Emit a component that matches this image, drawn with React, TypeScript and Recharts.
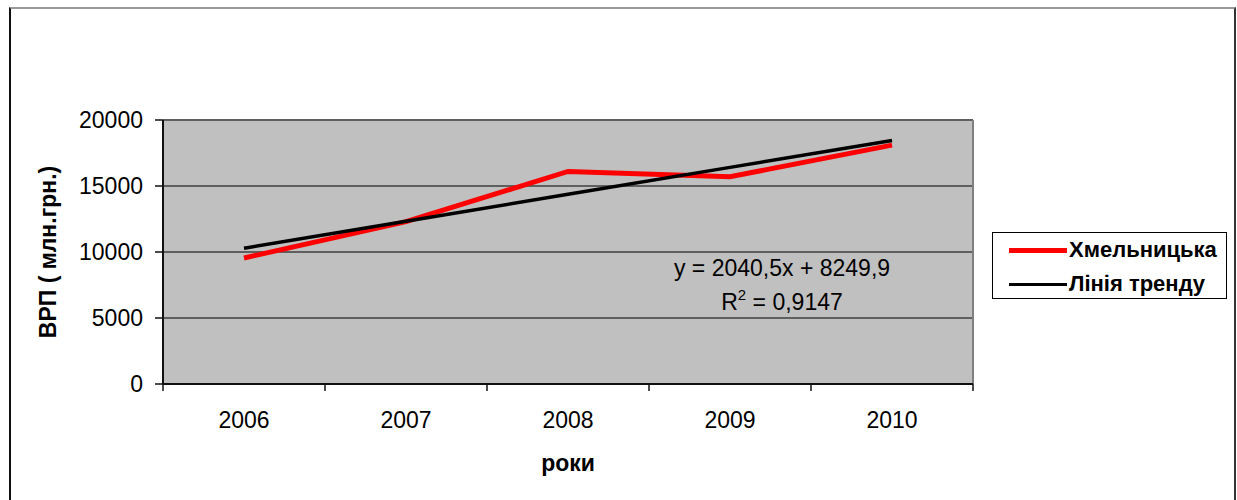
import React from 'react';
import {
  LineChart,
  Line,
  XAxis,
  YAxis,
  CartesianGrid,
} from 'recharts';

// values
const years = ['2006', '2007', '2008', '2009', '2010'];
const khmelnytska = [9550, 12300, 16100, 15700, 18100];
const trend = [10290, 12331, 14371, 16412, 18452];
const yTicks = [0, 5000, 10000, 15000, 20000];

const data = years.map((year, i) => ({
  year,
  khm: khmelnytska[i],
  trend: trend[i],
}));

const FONT = '"Liberation Sans", Arial, sans-serif';
const HALF = 81; // half a category slot, so the tick marks sit between years

// Excel-style category axis: label in the slot, tick marks at slot edges
function YearTick(props: any) {
  const { x, y, payload, index } = props;
  const last = index === years.length - 1;
  return (
    <g>
      <line x1={x - HALF} x2={x - HALF} y1={y} y2={y + 7} stroke="#111" strokeWidth={1.5} />
      {last && (
        <line x1={x + HALF} x2={x + HALF} y1={y} y2={y + 7} stroke="#111" strokeWidth={1.5} />
      )}
      <text
        x={x}
        y={y + 28}
        dy="0.71em"
        textAnchor="middle"
        fontSize={23}
        fill="#000"
        fontFamily={FONT}
      >
        {payload.value}
      </text>
    </g>
  );
}

export default function App() {
  return (
    <div
      style={{
        position: 'absolute',
        left: 0,
        top: 0,
        width: 1237,
        height: 500,
        background: '#fff',
        fontFamily: FONT,
        overflow: 'hidden',
      }}
    >
      {/* outer chart border */}
      <div
        style={{
          position: 'absolute',
          left: 9,
          top: 7,
          width: 1223,
          height: 500,
          borderLeft: '2px solid #111',
          borderTop: '2px solid #999',
          borderRight: '2px solid #333',
        }}
      />
      <LineChart
        width={1237}
        height={500}
        data={data}
        margin={{ top: 120, right: 264, bottom: 0, left: 0 }}
        style={{ position: 'absolute', left: 0, top: 0, fontFamily: FONT }}
      >
        <CartesianGrid
          vertical={false}
          fill="#c0c0c0"
          stroke="#5f5f5f"
          strokeWidth={2}
        />
        {/* plot-area right border */}
        <CartesianGrid
          horizontal={false}
          fill="none"
          stroke="#808080"
          strokeWidth={2}
          verticalCoordinatesGenerator={({ offset }: any) => [offset.left + offset.width]}
        />
        <XAxis
          dataKey="year"
          height={116}
          padding={{ left: HALF, right: HALF }}
          axisLine={{ stroke: '#111', strokeWidth: 2 }}
          tickLine={false}
          tickSize={0}
          tickMargin={0}
          interval={0}
          tick={<YearTick />}
          label={{
            value: 'роки',
            position: 'center',
            dy: 21,
            fontSize: 23,
            fontWeight: 'bold',
            fill: '#000',
            fontFamily: FONT,
          }}
        />
        <YAxis
          width={163}
          domain={[0, 20000]}
          ticks={yTicks}
          tickSize={8}
          tickMargin={12}
          axisLine={{ stroke: '#111', strokeWidth: 2 }}
          tickLine={{ stroke: '#111', strokeWidth: 1.5 }}
          tick={{ fontSize: 23, fill: '#000', fontFamily: FONT }}
          label={{
            value: 'ВРП ( млн.грн.)',
            angle: -90,
            position: 'center',
            dx: -34,
            fontSize: 23,
            fontWeight: 'bold',
            fill: '#000',
            fontFamily: FONT,
          }}
        />
        <Line
          type="linear"
          dataKey="khm"
          stroke="#ff0000"
          strokeWidth={5}
          dot={false}
          isAnimationActive={false}
        />
        <Line
          type="linear"
          dataKey="trend"
          stroke="#000"
          strokeWidth={3.5}
          dot={false}
          isAnimationActive={false}
        />
      </LineChart>

      {/* trend equation */}
      <div
        style={{
          position: 'absolute',
          left: 632,
          top: 251,
          width: 300,
          textAlign: 'center',
          fontSize: 23,
          lineHeight: '34px',
          color: '#000',
        }}
      >
        <div>y = 2040,5x + 8249,9</div>
        <div>
          R<sup style={{ fontSize: 15, verticalAlign: 'top', lineHeight: '20px' }}>2</sup> = 0,9147
        </div>
      </div>

      {/* legend */}
      <div
        style={{
          position: 'absolute',
          left: 992,
          top: 232,
          width: 233,
          height: 65,
          border: '1px solid #000',
          background: '#fff',
          fontSize: 22,
          fontWeight: 'bold',
          color: '#000',
        }}
      >
        {[
          { name: 'Хмельницька', color: '#ff0000', w: 5, top: 4 },
          { name: 'Лінія тренду', color: '#000', w: 3, top: 38 },
        ].map((it) => (
          <div
            key={it.name}
            style={{
              position: 'absolute',
              left: 16,
              top: it.top,
              height: 26,
              display: 'flex',
              alignItems: 'center',
              whiteSpace: 'nowrap',
            }}
          >
            <span
              style={{
                display: 'inline-block',
                width: 58,
                height: it.w,
                background: it.color,
                marginRight: 2,
              }}
            />
            {it.name}
          </div>
        ))}
      </div>
    </div>
  );
}
